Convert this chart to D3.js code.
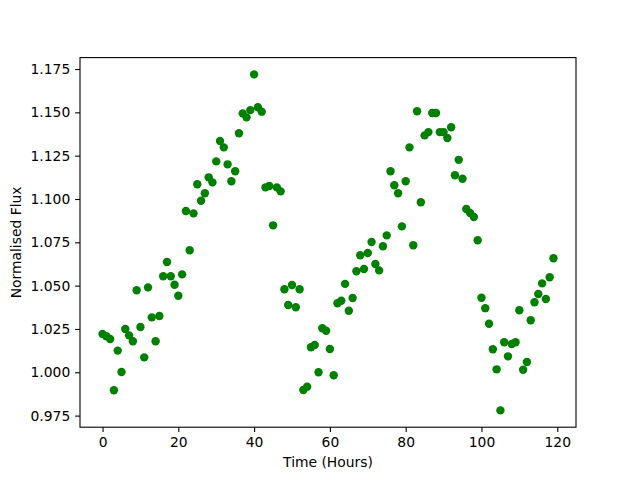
<!DOCTYPE html>
<html>
<head>
<meta charset="utf-8">
<script src="https://cdn.jsdelivr.net/npm/d3@7"></script>
<style>
  body { margin: 0; background: #fff; }
  svg { display: block; }
  text { font-family: "DejaVu Sans", sans-serif; }
</style>
</head>
<body>
<script>
// time in hours, one reading per hour
let hours = d3.range(0, 120);

// normalised flux, hour 0 .. 119
let flux = [
  1.0221, 1.0208, 1.0192, 0.9896, 1.0125, 1.0002, 1.0250, 1.0213, 1.0179, 1.0473,
  1.0261, 1.0086, 1.0490, 1.0317, 1.0179, 1.0325, 1.0554, 1.0636, 1.0554, 1.0505,
  1.0442, 1.0565, 1.0931, 1.0704, 1.0917, 1.1085, 1.0990, 1.1033, 1.1125, 1.1096,
  1.1217, 1.1335, 1.1298, 1.1200, 1.1102, 1.1160, 1.1379, 1.1494, 1.1471, 1.1513,
  1.1719, 1.1529, 1.1504, 1.1067, 1.1075, 1.0848, 1.1067, 1.1044, 1.0479, 1.0388,
  1.0504, 1.0375, 1.0479, 0.9898, 0.9917, 1.0144, 1.0157, 1.0000, 1.0254, 1.0240,
  1.0134, 0.9983, 1.0398, 1.0413, 1.0510, 1.0355, 1.0429, 1.0583, 1.0675, 1.0596,
  1.0688, 1.0752, 1.0625, 1.0588, 1.0727, 1.0790, 1.1160, 1.1079, 1.1033, 1.0842,
  1.1102, 1.1298, 1.0733, 1.1506, 1.0981, 1.1367, 1.1386, 1.1496, 1.1496, 1.1386,
  1.1386, 1.1352, 1.1414, 1.1137, 1.1226, 1.1117, 1.0942, 1.0919, 1.0896, 1.0762,
  1.0430, 1.0370, 1.0280, 1.0133, 1.0017, 0.9780, 1.0173, 1.0092, 1.0163, 1.0173,
  1.0358, 1.0015, 1.0059, 1.0300, 1.0404, 1.0452, 1.0513, 1.0423, 1.0548, 1.0658
];

let xTicks = [0, 20, 40, 60, 80, 100, 120];
let yTicks = [0.975, 1.000, 1.025, 1.050, 1.075, 1.100, 1.125, 1.150, 1.175];

let data = hours.map(function(h, i) { return {hour: h, flux: flux[i]}; });

// figure layout, same fractions matplotlib uses by default
let width = 640;
let height = 480;
let margin = {top: 480*0.12, right: 640*0.1, bottom: 480*0.11, left: 640*0.125};
let fontPx = 10*100/72;
let tickLen = 3.5*100/72;

// pad the data range by 5% each side
function padded(ext) {
  let r = ext[1] - ext[0];
  return [ext[0] - 0.05*r, ext[1] + 0.05*r];
}

let x = d3.scaleLinear()
          .domain(padded(d3.extent(hours)))
          .range([margin.left, width - margin.right]);

let y = d3.scaleLinear()
          .domain(padded(d3.extent(flux)))
          .range([height - margin.bottom, margin.top]);

let svg = d3.select("body")
            .append("svg")
            .attr("width", width)
            .attr("height", height);

// points
svg.append("g")
   .selectAll("circle")
   .data(data)
   .join("circle")
   .attr("cx", function(d) { return x(d.hour); })
   .attr("cy", function(d) { return y(d.flux); })
   .attr("r", 4.2)
   .attr("fill", "#008000");

// axes
let xAxis = svg.append("g")
               .attr("transform", `translate(0,${height - margin.bottom})`)
               .call(d3.axisBottom(x).tickValues(xTicks).tickFormat(d3.format("d"))
                       .tickSizeInner(tickLen).tickSizeOuter(0).tickPadding(tickLen));
let yAxis = svg.append("g")
               .attr("transform", `translate(${margin.left},0)`)
               .call(d3.axisLeft(y).tickValues(yTicks).tickFormat(d3.format(".3f"))
                       .tickSizeInner(tickLen).tickSizeOuter(0).tickPadding(tickLen));

[xAxis, yAxis].forEach(function(a) {
  a.select(".domain").remove();
  a.selectAll("line").attr("stroke", "#000").attr("stroke-width", 1.1);
  a.selectAll("text").attr("font-size", fontPx).attr("fill", "#000")
   .style("font-family", "'DejaVu Sans', sans-serif");
});

// frame round the axes
svg.append("rect")
   .attr("x", margin.left)
   .attr("y", margin.top)
   .attr("width", width - margin.left - margin.right)
   .attr("height", height - margin.top - margin.bottom)
   .attr("fill", "none")
   .attr("stroke", "#000")
   .attr("stroke-width", 1.1);

// axis labels
svg.append("text")
   .attr("x", (margin.left + width - margin.right)/2)
   .attr("y", 467)
   .attr("text-anchor", "middle")
   .attr("font-size", fontPx)
   .text("Time (Hours)");

svg.append("text")
   .attr("transform", `translate(21,${(margin.top + height - margin.bottom)/2}) rotate(-90)`)
   .attr("text-anchor", "middle")
   .attr("font-size", fontPx)
   .text("Normalised Flux");
</script>
</body>
</html>
